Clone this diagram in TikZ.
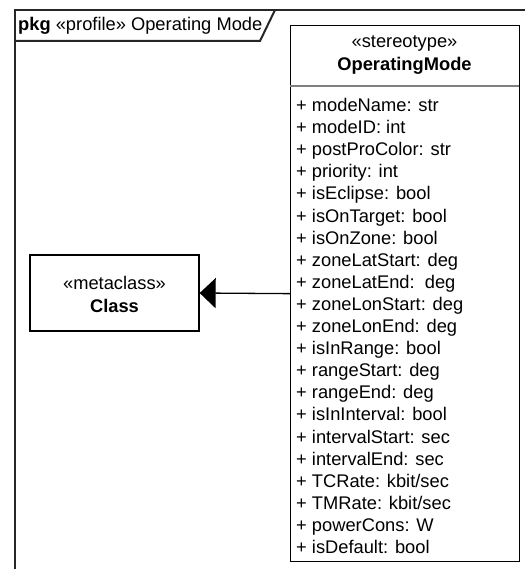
\documentclass[tikz,border=0pt]{standalone}
\usepackage{fontspec}
\setmainfont{Liberation Sans}
\usetikzlibrary{arrows.meta}
\begin{document}
\begin{tikzpicture}[x=1pt,y=-1pt,
  every node/.style={font=\fontsize{18.3}{22}\selectfont, inner sep=0pt},
  umlbox/.style={draw=black, line width=1.3pt, fill=white},
  frameline/.style={draw=black!85, line width=2pt},
  sepline/.style={draw=black!50, line width=1.3pt},
  generalization/.style={draw=black, line width=1.3pt, -{Triangle[length=16pt,width=30pt]}}]
\useasboundingbox (0,0) rectangle (524,569);
% package frame
\draw[frameline] (15,590) -- (15,10) -- (545,10);
\draw[frameline] (15,41) -- (260,41) -- (275,10);
\node[anchor=west] (tab) at (18,25.5) {\textbf{pkg} «profile» Operating Mode};
% stereotype class
\node[umlbox, minimum width=229, minimum height=536, anchor=north west] (om) at (290,25) {};
\coordinate (sepL) at (290,86);
\coordinate (sepR) at (519,86);
\draw[sepline] (sepL) -- (sepR);
\node (omst) at (404.5,43) {«stereotype»};
\node (omname) at (404.5,66) {\textbf{OperatingMode}};
\foreach \t [count=\i from 0] in {
  + modeName: str,
  + modeID: int,
  + postProColor: str,
  + priority: int,
  + isEclipse: bool,
  + isOnTarget: bool,
  + isOnZone: bool,
  + zoneLatStart: deg,
  + zoneLatEnd:\ \ deg,
  + zoneLonStart: deg,
  + zoneLonEnd: deg,
  + isInRange: bool,
  + rangeStart: deg,
  + rangeEnd: deg,
  + isInInterval: bool,
  + intervalStart: sec,
  + intervalEnd: sec,
  + TCRate: kbit/sec,
  + TMRate: kbit/sec,
  + powerCons: W,
  + isDefault: bool}
  \node[anchor=base west] (attr\i) at (296,{111.5+22.1*\i}) {\t};
% metaclass
\node[umlbox, minimum width=169, minimum height=76] (cls) at (114.5,293) {};
\node (clsst) at (114.5,283) {«metaclass»};
\node (clsname) at (114.5,305.5) {\textbf{Class}};
% extension arrow
\draw[generalization] (om.west) -- (cls.east);
\end{tikzpicture}
\end{document}
